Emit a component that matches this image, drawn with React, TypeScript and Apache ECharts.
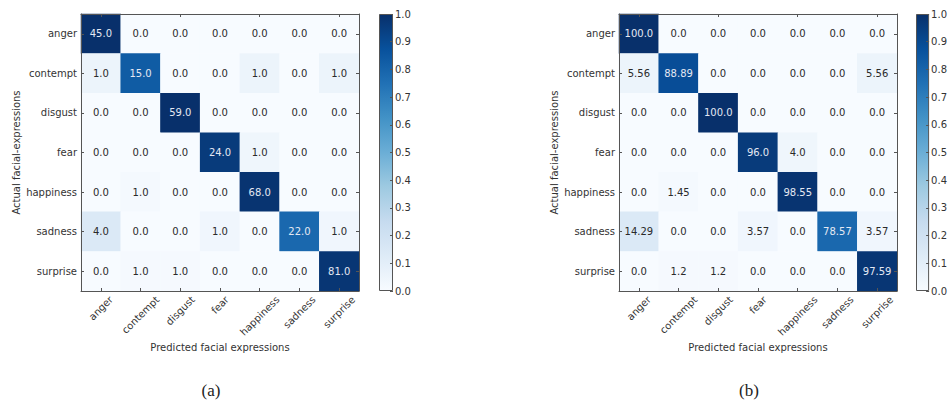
import React, { useEffect, useRef } from "react";
import * as echarts from "echarts";

// Emotion classes (rows = actual, columns = predicted)
const classes = ["anger", "contempt", "disgust", "fear", "happiness", "sadness", "surprise"];

// (a) raw counts
const countsA = [
  [45, 0, 0, 0, 0, 0, 0],
  [1, 15, 0, 0, 1, 0, 1],
  [0, 0, 59, 0, 0, 0, 0],
  [0, 0, 0, 24, 1, 0, 0],
  [0, 1, 0, 0, 68, 0, 0],
  [4, 0, 0, 1, 0, 22, 1],
  [0, 1, 1, 0, 0, 0, 81],
];

// (b) row percentages
const percentB = [
  [100.0, 0, 0, 0, 0, 0, 0],
  [5.56, 88.89, 0, 0, 0, 0, 5.56],
  [0, 0, 100.0, 0, 0, 0, 0],
  [0, 0, 0, 96.0, 4.0, 0, 0],
  [0, 1.45, 0, 0, 98.55, 0, 0],
  [14.29, 0, 0, 3.57, 0, 78.57, 3.57],
  [0, 1.2, 1.2, 0, 0, 0, 97.59],
];

const captions = ["(a)", "(b)"];
const xAxisTitle = "Predicted facial expressions";
const yAxisTitle = "Actual facial-expressions";

// matplotlib "Blues" colormap stops
const blues = ["#f7fbff", "#deebf7", "#c6dbef", "#9ecae1", "#6baed6", "#4292c6", "#2171b5", "#08519c", "#08306b"];

const FONT = "DejaVu Sans";
const TEXT = "#333333";
const FRAME = "#555555";
const LIGHT_TEXT = "#e4e8f3";
const DARK_TEXT = "#2a2a2a";

const fmt = (v: number) => (Number.isInteger(v) ? v.toFixed(1) : String(v));

function rowNormalize(m: number[][]) {
  return m.map((row) => {
    const s = row.reduce((a, b) => a + b, 0);
    return row.map((v) => (s ? v / s : 0));
  });
}

function cells(values: number[][], norm: number[][]) {
  const out: any[] = [];
  values.forEach((row, i) =>
    row.forEach((v, j) => {
      const n = norm[i][j];
      out.push({
        value: [j, i, n],
        label: { formatter: fmt(v), color: n > 0.5 ? LIGHT_TEXT : DARK_TEXT },
      });
    })
  );
  return out;
}

export default function App() {
  const ref = useRef<HTMLDivElement>(null);

  useEffect(() => {
    if (!ref.current) return;
    const chart = echarts.init(ref.current, undefined, { renderer: "svg" });

    // rich styles that push each rotated tick label so its box is centred under the tick
    const ctx = document.createElement("canvas").getContext("2d")!;
    ctx.font = `10px "${FONT}"`;
    const rich: Record<string, any> = {};
    classes.forEach((c, i) => {
      const p = (ctx.measureText(c).width + 11) / 2;
      rich["c" + i] = { fontFamily: FONT, fontSize: 10, color: TEXT, padding: [p, p, 0, 0] };
    });

    const normA = rowNormalize(countsA);
    const normB = percentB.map((r) => r.map((v) => v / 100));

    const grids = [
      { left: 81, top: 14, width: 278, height: 277 },
      { left: 619, top: 14, width: 278, height: 277 },
      { left: 379, top: 14, width: 14, height: 277 },
      { left: 916, top: 14, width: 15, height: 277 },
    ];

    const tick = { show: true, inside: true, length: 3, alignWithLabel: true, lineStyle: { color: FRAME, width: 1 } };
    const line = { show: true, lineStyle: { color: FRAME, width: 1 } };
    const labelStyle = { fontFamily: FONT, fontSize: 10, color: TEXT };
    const nameStyle = { fontFamily: FONT, fontSize: 10, color: TEXT };

    const xAxes: any[] = [];
    const yAxes: any[] = [];
    [0, 1].forEach((g) => {
      xAxes.push({
        type: "category", gridIndex: g, position: "bottom", data: classes, z: 10,
        axisLine: line, axisTick: tick, splitLine: { show: false },
        axisLabel: {
          ...labelStyle, interval: 0, rotate: 45, align: "center", verticalAlign: "middle",
          margin: 3, hideOverlap: false, rich,
          formatter: (v: string, i: number) => `{c${i}|${v}}`,
        },
        name: xAxisTitle, nameLocation: "middle", nameGap: 51, nameMoveOverlap: false, nameTextStyle: nameStyle,
      });
      xAxes.push({
        type: "category", gridIndex: g, position: "top", data: classes, z: 10,
        axisLine: line, axisTick: tick, axisLabel: { show: false }, splitLine: { show: false },
      });
      yAxes.push({
        type: "category", gridIndex: g, position: "left", inverse: true, data: classes, z: 10,
        axisLine: line, axisTick: tick, splitLine: { show: false },
        axisLabel: { ...labelStyle, interval: 0, margin: 4 },
        name: yAxisTitle, nameLocation: "middle", nameGap: 60, nameRotate: 90, nameTextStyle: nameStyle,
      });
      yAxes.push({
        type: "category", gridIndex: g, position: "right", inverse: true, data: classes, z: 10,
        axisLine: line, axisTick: tick, axisLabel: { show: false }, splitLine: { show: false },
      });
    });
    [2, 3].forEach((g) => {
      xAxes.push({ type: "category", gridIndex: g, data: [""], show: false });
      yAxes.push({
        type: "value", gridIndex: g, position: "right", min: 0, max: 1, interval: 0.1, z: 10,
        axisLine: { show: false }, splitLine: { show: false },
        axisTick: { show: true, inside: true, length: 3, lineStyle: { color: FRAME, width: 1 } },
        axisLabel: { ...labelStyle, margin: 2, formatter: (v: number) => v.toFixed(1) },
      });
    });

    const heatLabel = { show: true, fontFamily: FONT, fontSize: 10 };
    const gradient = new echarts.graphic.LinearGradient(
      0, 1, 0, 0,
      blues.map((c, i) => ({ offset: i / (blues.length - 1), color: c }))
    );

    chart.setOption({
      animation: false,
      backgroundColor: "#ffffff",
      title: captions.map((t, i) => ({
        text: t,
        left: i === 0 ? 206 : 744,
        top: 377,
        textAlign: "center",
        textStyle: { fontFamily: "Liberation Serif", fontSize: 17, fontWeight: "normal", color: "#222" },
      })),
      grid: grids,
      xAxis: xAxes,
      yAxis: yAxes,
      visualMap: {
        type: "continuous", show: false, min: 0, max: 1, dimension: 2,
        seriesIndex: [0, 1], inRange: { color: blues },
      },
      series: [
        {
          type: "heatmap", xAxisIndex: 0, yAxisIndex: 0, data: cells(countsA, normA),
          label: heatLabel, itemStyle: { borderWidth: 0 }, emphasis: { disabled: true },
        },
        {
          type: "heatmap", xAxisIndex: 2, yAxisIndex: 2, data: cells(percentB, normB),
          label: heatLabel, itemStyle: { borderWidth: 0 }, emphasis: { disabled: true },
        },
        {
          type: "bar", xAxisIndex: 4, yAxisIndex: 4, data: [1], barWidth: "100%", silent: true,
          itemStyle: { color: gradient, borderColor: FRAME, borderWidth: 1 },
        },
        {
          type: "bar", xAxisIndex: 5, yAxisIndex: 5, data: [1], barWidth: "100%", silent: true,
          itemStyle: { color: gradient, borderColor: FRAME, borderWidth: 1 },
        },
      ],
    });

    return () => chart.dispose();
  }, []);

  return (
    <div
      ref={ref}
      style={{ position: "absolute", left: 0, top: 0, width: 950, height: 404 }}
    />
  );
}
